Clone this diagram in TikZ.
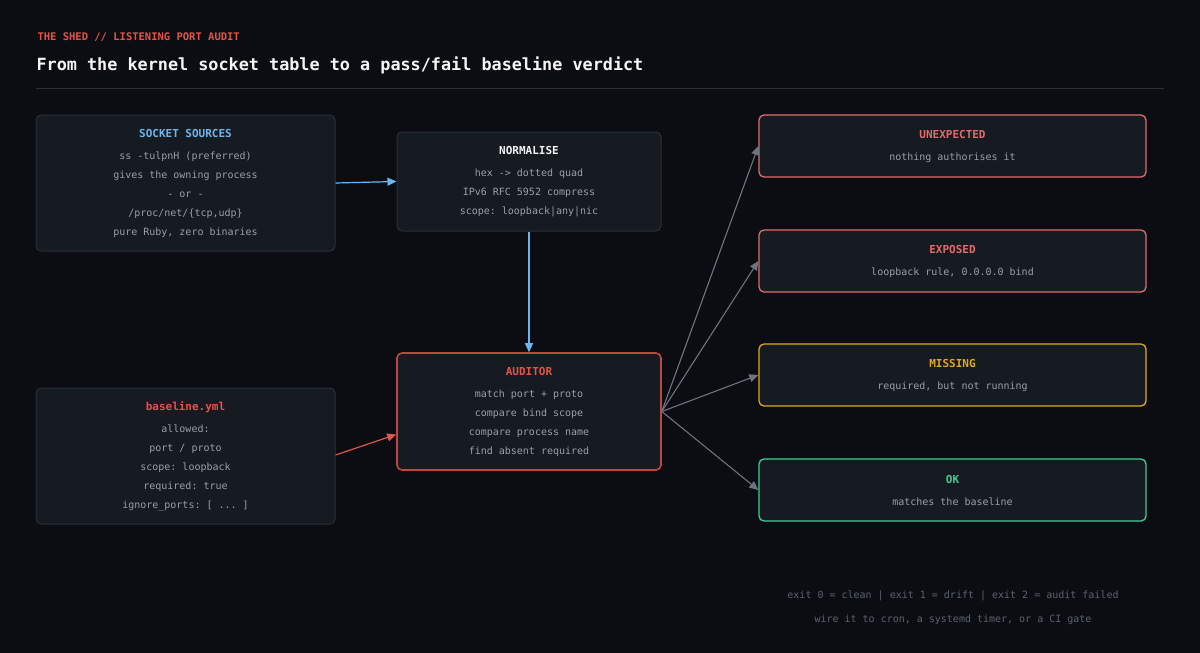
\documentclass[tikz,border=0pt]{standalone}
\usepackage{fontspec}
\setmonofont{DejaVu Sans Mono}
\usepackage{xcolor}
\usetikzlibrary{arrows.meta, positioning}
\definecolor{bgc}{HTML}{0B0D12}
\definecolor{boxc}{HTML}{161A21}
\definecolor{edgec}{HTML}{2A2F38}
\definecolor{txtc}{HTML}{9AA0A8}
\definecolor{redc}{HTML}{E0554A}
\definecolor{pinkc}{HTML}{E06C6C}
\definecolor{bluec}{HTML}{6CB6F0}
\definecolor{yelc}{HTML}{E0A820}
\definecolor{grnc}{HTML}{3CCF91}
\definecolor{fanc}{HTML}{6B7480}
\definecolor{footc}{HTML}{5A6370}
\tikzset{
  box/.style={draw=edgec, fill=boxc, rounded corners=5pt, line width=1pt, align=center,
    text=txtc, font=\ttfamily\fontsize{10}{19}\selectfont, inner sep=0pt},
  verdict/.style={box, minimum width=387pt, minimum height=62pt, line width=1.3pt},
  flow/.style={-{Triangle[length=9pt,width=8pt]}, line width=1.2pt},
}
\newcommand{\boxhead}[2]{{\fontsize{11}{19}\selectfont\bfseries\color{#1}#2}\\[3pt]}
\begin{document}
\begin{tikzpicture}[x=1pt, y=-1pt]
\fill[bgc] (0,0) rectangle (1200,653);
\useasboundingbox (0,0) rectangle (1200,653);
% header
\node[anchor=west, text=redc, font=\ttfamily\bfseries\fontsize{10.5}{12}\selectfont] (kicker) at (34,37) {THE SHED // LISTENING PORT AUDIT};
\node[anchor=west, text=white!92!gray, font=\ttfamily\bfseries\fontsize{16.8}{20}\selectfont] (title) at (33,65) {From the kernel socket table to a pass/fail baseline verdict};
\draw[edgec, line width=1pt] (36,88) -- (1164,88);
% inputs
\node[box, minimum width=299pt, minimum height=136pt] (sources) at (185.5,183) {\boxhead{bluec}{SOCKET SOURCES}ss -tulpnH (preferred)\\gives the owning process\\- or -\\/proc/net/\{tcp,udp\}\\pure Ruby, zero binaries};
\node[box, minimum width=299pt, minimum height=136pt] (baseline) at (185.5,456) {\boxhead{redc}{baseline.yml}allowed:\\port / proto\\scope: loopback\\required: true\\ignore\_ports: [ ... ]};
\node[box, minimum width=264pt, minimum height=99pt] (normalise) at (529,181.5) {\boxhead{white!90!gray}{NORMALISE}hex -> dotted quad\\IPv6 RFC 5952 compress\\scope: loopback|any|nic};
\node[box, draw=redc!85!black, line width=1.6pt, minimum width=264pt, minimum height=117pt] (auditor) at (529,411.5) {\boxhead{redc}{AUDITOR}match port + proto\\compare bind scope\\compare process name\\find absent required};
% verdicts
\node[verdict, draw=pinkc] (unexpected) at (952.5,146) {\boxhead{pinkc}{UNEXPECTED}nothing authorises it};
\node[verdict, draw=pinkc] (exposed) at (952.5,261) {\boxhead{pinkc}{EXPOSED}loopback rule, 0.0.0.0 bind};
\node[verdict, draw=yelc] (missing) at (952.5,375) {\boxhead{yelc}{MISSING}required, but not running};
\node[verdict, draw=grnc] (ok) at (952.5,490) {\boxhead{grnc}{OK}matches the baseline};
% connectors
\draw[flow, bluec] (sources.east) -- (normalise.west);
\draw[flow, bluec] (normalise.south) -- (auditor.north);
\draw[flow, redc] ([yshift=1pt]baseline.east) -- ([yshift=-23pt]auditor.west);
\foreach \v in {unexpected, exposed, missing, ok}
  \draw[flow, fanc, line width=1.1pt] (auditor.east) -- (\v.west);
% footer
\node[text=footc, font=\ttfamily\fontsize{10}{12}\selectfont] (exits) at (953,596) {exit 0 = clean | exit 1 = drift | exit 2 = audit failed};
\node[text=footc, font=\ttfamily\fontsize{10}{12}\selectfont] (wire) at (953,620) {wire it to cron, a systemd timer, or a CI gate};
\end{tikzpicture}
\end{document}
